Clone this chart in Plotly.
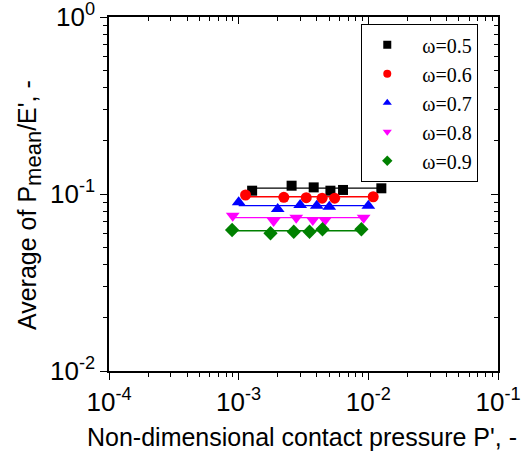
import plotly.graph_objects as go

# ---- data ----
labels = ["ω=0.5", "ω=0.6", "ω=0.7", "ω=0.8", "ω=0.9"]
x_05 = [1.27e-3, 2.56e-3, 3.79e-3, 5.10e-3, 6.38e-3, 1.26e-2]
y_05 = [0.1044, 0.1114, 0.1090, 0.1044, 0.1054, 0.1077]
x_06 = [1.13e-3, 2.23e-3, 3.32e-3, 4.40e-3, 5.50e-3, 1.09e-2]
y_06 = [0.0987, 0.0958, 0.0953, 0.0947, 0.0947, 0.0965]
x_07 = [1.00e-3, 2.00e-3, 2.98e-3, 4.00e-3, 5.00e-3, 1.00e-2]
y_07 = [0.0898, 0.0823, 0.0867, 0.0859, 0.0848, 0.0859]
x_08 = [0.90e-3, 1.86e-3, 2.78e-3, 3.73e-3, 4.64e-3, 9.20e-3]
y_08 = [0.0754, 0.0704, 0.0735, 0.0713, 0.0713, 0.0735]
x_09 = [0.89e-3, 1.76e-3, 2.66e-3, 3.52e-3, 4.43e-3, 8.84e-3]
y_09 = [0.0626, 0.0600, 0.0612, 0.0612, 0.0632, 0.0632]
fit_levels = [0.108, 0.0965, 0.0859, 0.0735, 0.0620]

xs = [x_05, x_06, x_07, x_08, x_09]
ys = [y_05, y_06, y_07, y_08, y_09]
colors = ["#000000", "#FF0000", "#0000FF", "#FF00FF", "#008000"]
symbols = ["square", "circle", "triangle-up", "triangle-down", "diamond"]
sizes = [10, 11, 12, 12, 11]

x_tickvals = [1e-4, 1e-3, 1e-2, 1e-1]
x_ticktext = ["10<sup>-4</sup>", "10<sup>-3</sup>", "10<sup>-2</sup>", "10<sup>-1</sup>"]
y_tickvals = [1e-2, 1e-1, 1e0]
y_ticktext = ["10<sup>-2</sup>", "10<sup>-1</sup>", "10<sup>0</sup>"]

x_title = "Non-dimensional contact pressure P', -"
y_title = "Average of P<sub><span style='font-size:22px'>mean</span></sub>/E', -"

x_minor = [m * 10**e for e in (-4, -3, -2) for m in range(2, 10)]
y_minor = [m * 10**e for e in (-2, -1) for m in range(2, 10)]

fig = go.Figure()

for xv, yv, lev, c, s, sz in zip(xs, ys, fit_levels, colors, symbols, sizes):
    fig.add_trace(go.Scatter(x=[min(xv), max(xv)], y=[lev, lev], mode="lines",
                             line=dict(color=c, width=1.3), showlegend=False,
                             hoverinfo="skip"))
    fig.add_trace(go.Scatter(x=xv, y=yv, mode="markers", showlegend=False,
                             marker=dict(color=c, symbol=s, size=sz, line=dict(width=0))))

pad = "\u00a0" * 2
for lab, c, s in zip(labels, colors, symbols):
    fig.add_trace(go.Scatter(x=[None], y=[None], mode="markers", name=pad + lab,
                             marker=dict(color=c, symbol=s, size=8, line=dict(width=0))))

# mirror axes with inside ticks
fig.add_trace(go.Scatter(x=[None], y=[None], xaxis="x2", yaxis="y2", showlegend=False))

sans = "Liberation Sans, Arial"
tickfont = dict(family=sans, size=26, color="black")
axis_common = dict(type="log", showgrid=False, zeroline=False, showline=True,
                   linecolor="black", linewidth=1.5, tickcolor="black",
                   tickwidth=1.2, ticklen=7, automargin=False)

fig.update_layout(
    width=524, height=453,
    margin=dict(l=109, r=26, t=17, b=82),
    paper_bgcolor="white", plot_bgcolor="white",
    showlegend=True,
    xaxis=dict(**axis_common, range=[-4, -1], ticks="outside",
               tickvals=x_tickvals, ticktext=x_ticktext, tickfont=tickfont,
               ticklabeloverflow="allow",
               minor=dict(tickvals=x_minor, ticks="outside", ticklen=4,
                          tickcolor="black", tickwidth=1)),
    yaxis=dict(**axis_common, range=[-2, 0], ticks="outside",
               tickvals=y_tickvals, ticktext=y_ticktext, tickfont=tickfont,
               ticklabeloverflow="allow",
               minor=dict(tickvals=y_minor, ticks="outside", ticklen=4,
                          tickcolor="black", tickwidth=1)),
    xaxis2=dict(**axis_common, range=[-4, -1], overlaying="x", side="top",
                ticks="inside", tickvals=x_tickvals, showticklabels=False,
                minor=dict(tickvals=x_minor, ticks="inside", ticklen=4,
                           tickcolor="black", tickwidth=1)),
    yaxis2=dict(**axis_common, range=[-2, 0], overlaying="y", side="right",
                ticks="inside", tickvals=y_tickvals, showticklabels=False,
                minor=dict(tickvals=y_minor, ticks="inside", ticklen=4,
                           tickcolor="black", tickwidth=1)),
    legend=dict(x=0.648, y=0.98, xanchor="left", yanchor="top",
                bgcolor="white", bordercolor="black", borderwidth=1.2,
                font=dict(family="Liberation Serif, Times New Roman", size=20, color="black"),
                tracegroupgap=0, itemwidth=40),
    annotations=[
        dict(text=x_title, xref="paper", yref="paper", x=0.496, y=-0.186,
             xanchor="center", yanchor="middle", showarrow=False,
             font=dict(family=sans, size=25, color="black")),
        dict(text=y_title, xref="paper", yref="paper", x=-0.203, y=0.469,
             xanchor="center", yanchor="middle", showarrow=False, textangle=-90,
             font=dict(family=sans, size=25, color="black")),
    ],
)

fig.write_html("out.html")
